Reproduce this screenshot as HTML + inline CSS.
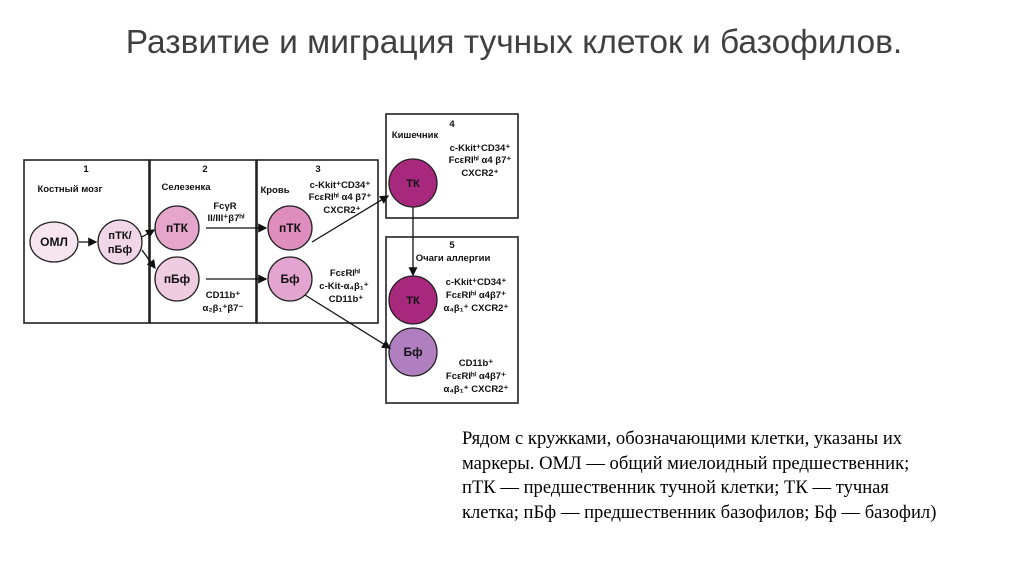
<!DOCTYPE html>
<html><head><meta charset="utf-8"><style>
body{margin:0;width:1024px;height:576px;background:#fff;overflow:hidden;position:relative;font-family:"Liberation Sans",sans-serif}
.t{position:absolute;top:24px;left:0;width:1028px;text-align:center;font-size:33.5px;color:#404040;font-family:"Liberation Sans",sans-serif}
.p{position:absolute;left:462px;top:427px;width:486px;font-family:"Liberation Serif",serif;font-size:18.6px;line-height:24.5px;color:#000}
svg text{font-family:"Liberation Sans",sans-serif;fill:#111}
</style></head><body>
<div class="t">Развитие и миграция тучных клеток и базофилов.</div>
<svg width="1024" height="576" style="position:absolute;left:0;top:0">
<defs><marker id="a" markerWidth="7" markerHeight="7" refX="6" refY="3.5" orient="auto"><path d="M0,0L7,3.5L0,7z" fill="#111"/></marker></defs>
<g fill="none" stroke="#222" stroke-width="1.6">
<rect x="24" y="160" width="125" height="163"/>
<rect x="150" y="160" width="106" height="163"/>
<rect x="257" y="160" width="121" height="163"/>
<rect x="386" y="114" width="132" height="104"/>
<rect x="386" y="237" width="132" height="166"/>
</g>
<g stroke="#222" stroke-width="1.3">
<ellipse cx="54" cy="242" rx="24" ry="20" fill="#f6e4ee"/>
<circle cx="120" cy="242" r="22" fill="#f0d6e6"/>
<circle cx="177" cy="228" r="22" fill="#e6a6cc"/>
<circle cx="177" cy="279" r="22" fill="#f0cce0"/>
<circle cx="290" cy="228" r="22" fill="#df8dbd"/>
<circle cx="290" cy="279" r="22" fill="#e3a5cf"/>
<circle cx="413" cy="183" r="24" fill="#a8287e"/>
<circle cx="413" cy="300" r="24" fill="#a8287e"/>
<circle cx="413" cy="352" r="24" fill="#b07fc0"/>
</g>
<g stroke="#111" stroke-width="1.3" fill="none" marker-end="url(#a)">
<line x1="79" y1="242" x2="96" y2="242"/>
<line x1="142" y1="237" x2="154" y2="230"/>
<line x1="142" y1="250" x2="155" y2="268"/>
<line x1="206" y1="228" x2="266" y2="228"/>
<line x1="206" y1="279" x2="266" y2="279"/>
<line x1="312" y1="242" x2="388" y2="196"/>
<line x1="305" y1="295" x2="390" y2="348"/>
<line x1="413" y1="207" x2="413" y2="275"/>
</g>
<g text-anchor="middle" font-weight="bold">
<text x="54" y="246" font-size="12">ОМЛ</text>
<text x="120" y="239" font-size="11">пТК/</text><text x="120" y="253" font-size="11">пБф</text>
<text x="177" y="232" font-size="12">пТК</text>
<text x="177" y="283" font-size="12">пБф</text>
<text x="290" y="232" font-size="12">пТК</text>
<text x="290" y="283" font-size="12">Бф</text>
<text x="413" y="187" font-size="11">ТК</text>
<text x="413" y="304" font-size="11">ТК</text>
<text x="413" y="356" font-size="12">Бф</text>
</g>
<g font-size="9.5" text-anchor="middle" font-weight="bold">
<text x="86" y="172">1</text><text x="205" y="172">2</text><text x="318" y="172">3</text>
<text x="452" y="127">4</text><text x="452" y="248">5</text>
<text x="70" y="192">Костный мозг</text>
<text x="186" y="190">Селезенка</text>
<text x="225" y="209">FcγR</text><text x="226" y="221">II/III⁺β7ʰⁱ</text>
<text x="223" y="298">CD11b⁺</text><text x="223" y="311">α₂β₁⁺β7⁻</text>
<text x="275" y="193">Кровь</text>
<text x="340" y="188">c-Kkit⁺CD34⁺</text><text x="340" y="200">FcεRIʰⁱ α4 β7⁺</text><text x="342" y="213">CXCR2⁺</text>
<text x="345" y="276">FcεRIʰⁱ</text><text x="344" y="289">c-Kit-α₄β₁⁺</text><text x="346" y="302">CD11b⁺</text>
<text x="415" y="138">Кишечник</text>
<text x="480" y="151">c-Kkit⁺CD34⁺</text><text x="480" y="163">FcεRIʰⁱ α4 β7⁺</text><text x="480" y="176">CXCR2⁺</text>
<text x="453" y="261">Очаги аллергии</text>
<text x="476" y="285">c-Kkit⁺CD34⁺</text><text x="476" y="298">FcεRIʰⁱ α4β7⁺</text><text x="476" y="311">α₄β₁⁺ CXCR2⁺</text>
<text x="476" y="366">CD11b⁺</text><text x="476" y="379">FcεRIʰⁱ α4β7⁺</text><text x="476" y="392">α₄β₁⁺ CXCR2⁺</text>
</g>
</svg>
<div class="p">Рядом с кружками, обозначающими клетки, указаны их<br>маркеры. ОМЛ — общий миелоидный предшественник;<br>пТК — предшественник тучной клетки; ТК — тучная<br><span style="white-space:nowrap">клетка; пБф — предшественник базофилов; Бф — базофил)</span></div>
</body></html>
